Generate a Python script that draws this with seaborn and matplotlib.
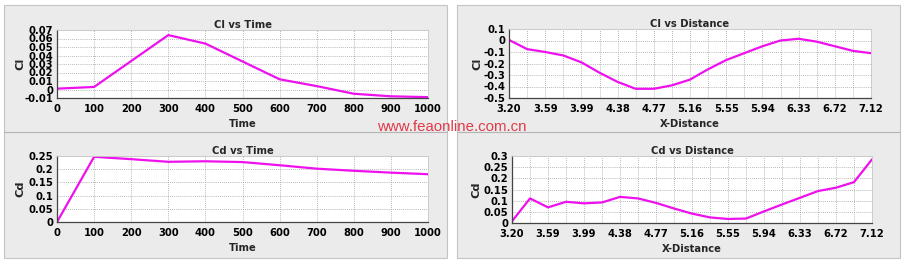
import numpy as np
import pandas as pd
import matplotlib
matplotlib.use("Agg")
import matplotlib.pyplot as plt
import seaborn as sns
from matplotlib.patches import Rectangle
from matplotlib.lines import Line2D
from matplotlib.ticker import MultipleLocator, FixedLocator

# ---------------- data ----------------
time_vals = [0, 100, 200, 300, 400, 500, 600, 700, 800, 900, 1000]
cl_time = [0.001, 0.003, 0.0335, 0.064, 0.054, 0.033, 0.012, 0.004, -0.005, -0.008, -0.009]
cd_time = [0.0, 0.247, 0.238, 0.228, 0.230, 0.227, 0.215, 0.202, 0.194, 0.187, 0.181]

dist_vals = [3.20, 3.396, 3.592, 3.788, 3.984, 4.18, 4.376, 4.572, 4.768, 4.964,
             5.16, 5.356, 5.552, 5.748, 5.944, 6.14, 6.336, 6.532, 6.728, 6.924, 7.12]
cl_dist = [0.005, -0.075, -0.10, -0.13, -0.19, -0.28, -0.36, -0.42, -0.42, -0.39,
           -0.34, -0.25, -0.17, -0.11, -0.05, 0.0, 0.015, -0.01, -0.05, -0.09, -0.11]
cd_dist = [0.008, 0.11, 0.07, 0.095, 0.088, 0.092, 0.117, 0.11, 0.09, 0.065,
           0.042, 0.025, 0.018, 0.02, 0.052, 0.083, 0.113, 0.143, 0.158, 0.183, 0.285]

dist_ticks = [3.20, 3.59, 3.99, 4.38, 4.77, 5.16, 5.55, 5.94, 6.33, 6.72, 7.12]
dist_tick_pos = [3.20 + 0.392 * i for i in range(11)]

titles = ["Cl vs Time", "Cl vs Distance", "Cd vs Time", "Cd vs Distance"]

# ---------------- style ----------------
sns.set_style("white")
plt.rcParams['font.family'] = ['DejaVu Sans']
plt.rcParams['font.weight'] = 'bold'

W, H = 906, 264
fig = plt.figure(figsize=(W / 100, H / 100), dpi=100)
fig.patch.set_facecolor("white")

def fx(x):
    return x / W

def fy(y):
    return 1 - y / H

# panel backgrounds
for (x0, x1) in [(4, 447), (457, 900)]:
    fig.patches.append(Rectangle((fx(x0), fy(258)), fx(x1 - x0), (258 - 5) / H,
                                 transform=fig.transFigure, facecolor="#ebebeb",
                                 edgecolor="#c4c4c4", linewidth=0.8, zorder=-10))
    fig.lines.append(Line2D([fx(x0), fx(x1)], [fy(131.5), fy(131.5)],
                            transform=fig.transFigure, color="#b4b4b4", linewidth=0.8,
                            zorder=-9))

MAG = "#ee11ee"
FS = 7.2

def make_ax(x0, x1, y0, y1):
    a = fig.add_axes([fx(x0), fy(y1), fx(x1 - x0), (y1 - y0) / H])
    a.set_zorder(2)
    return a

axes_specs = [
    dict(box=(57, 428, 30, 98), x=time_vals, y=cl_time, ylim=(-0.01, 0.07), ystep=0.01,
         xlab="Time", ylab="Cl", kind="time", ylabx=20),
    dict(box=(509, 871, 29, 98), x=dist_vals, y=cl_dist, ylim=(-0.5, 0.1), ystep=0.1,
         xlab="X-Distance", ylab="Cl", kind="dist", ylabx=477),
    dict(box=(57, 428, 156, 222), x=time_vals, y=cd_time, ylim=(0, 0.25), ystep=0.05,
         xlab="Time", ylab="Cd", kind="time", ylabx=20),
    dict(box=(512, 872, 156, 223), x=dist_vals, y=cd_dist, ylim=(0, 0.3), ystep=0.05,
         xlab="X-Distance", ylab="Cd", kind="dist", ylabx=476),
]

GRID = "#a0a0a0"

for spec, title in zip(axes_specs, titles):
    x0, x1, y0, y1 = spec["box"]
    ax = make_ax(x0, x1, y0, y1)
    df = pd.DataFrame({"x": spec["x"], "y": spec["y"]})
    sns.lineplot(data=df, x="x", y="y", ax=ax, color=MAG, linewidth=1.6)
    ax.set_facecolor("white")
    ax.set_ylim(*spec["ylim"])
    yt = np.round(np.arange(spec["ylim"][0], spec["ylim"][1] + 1e-9, spec["ystep"]), 4)
    ax.yaxis.set_major_locator(FixedLocator(yt))
    ax.set_yticklabels(["{:g}".format(v if abs(v) > 1e-9 else 0) for v in yt])
    if spec["kind"] == "time":
        ax.set_xlim(0, 1000)
        ax.xaxis.set_major_locator(MultipleLocator(100))
        ax.xaxis.set_minor_locator(MultipleLocator(50))
    else:
        ax.set_xlim(3.20, 7.12)
        ax.xaxis.set_major_locator(FixedLocator(dist_tick_pos))
        ax.set_xticklabels([f"{v:.2f}" for v in dist_ticks])
        ax.xaxis.set_minor_locator(FixedLocator([3.20 + 0.196 * i for i in range(21)]))
    ax.grid(True, which="major", color=GRID, linestyle=(0, (1, 1.5)), linewidth=0.6)
    if spec["kind"] == "dist":
        ax.grid(True, which="minor", axis="x", color=GRID, linestyle=(0, (1, 1.5)), linewidth=0.6)
    ax.set_axisbelow(True)
    ax.tick_params(axis="x", which="major", labelsize=FS, length=2.5, width=0.6,
                   direction="in", pad=4.3, colors="#222222")
    ax.tick_params(axis="y", which="major", labelsize=FS, length=2.5, width=0.6,
                   direction="in", pad=2.8, colors="#222222")
    ax.tick_params(axis="both", which="minor", length=1.5, width=0.5, direction="in")
    for lbl in ax.get_xticklabels() + ax.get_yticklabels():
        lbl.set_fontweight("bold")
        lbl.set_color("black")
    for side in ["left", "bottom"]:
        ax.spines[side].set_color("#444444")
        ax.spines[side].set_linewidth(0.9)
    for side in ["top", "right"]:
        ax.spines[side].set_color("#c8c8c8")
        ax.spines[side].set_linewidth(0.6)
    ax.set_title(title, fontsize=FS, fontweight="bold", pad=1.5)
    ax.set_xlabel(spec["xlab"], fontsize=FS, fontweight="bold")
    ax.set_ylabel(spec["ylab"], fontsize=FS + 1, fontweight="bold")
    w = x1 - x0
    h = y1 - y0
    ax.yaxis.set_label_coords(-(x0 - (spec["ylabx"] + 5)) / w, 0.5)
    ax.xaxis.set_label_coords(0.5, -21 / h)

wm = fig.text(fx(377), fy(127), "www.feaonline.com.cn", color="#e03a4a", fontsize=10.8,
              fontweight="normal", va="center", ha="left",
              family=["Liberation Sans", "DejaVu Sans"])
wm.set_zorder(10)

fig.savefig("out.png", dpi=100, facecolor="white")
